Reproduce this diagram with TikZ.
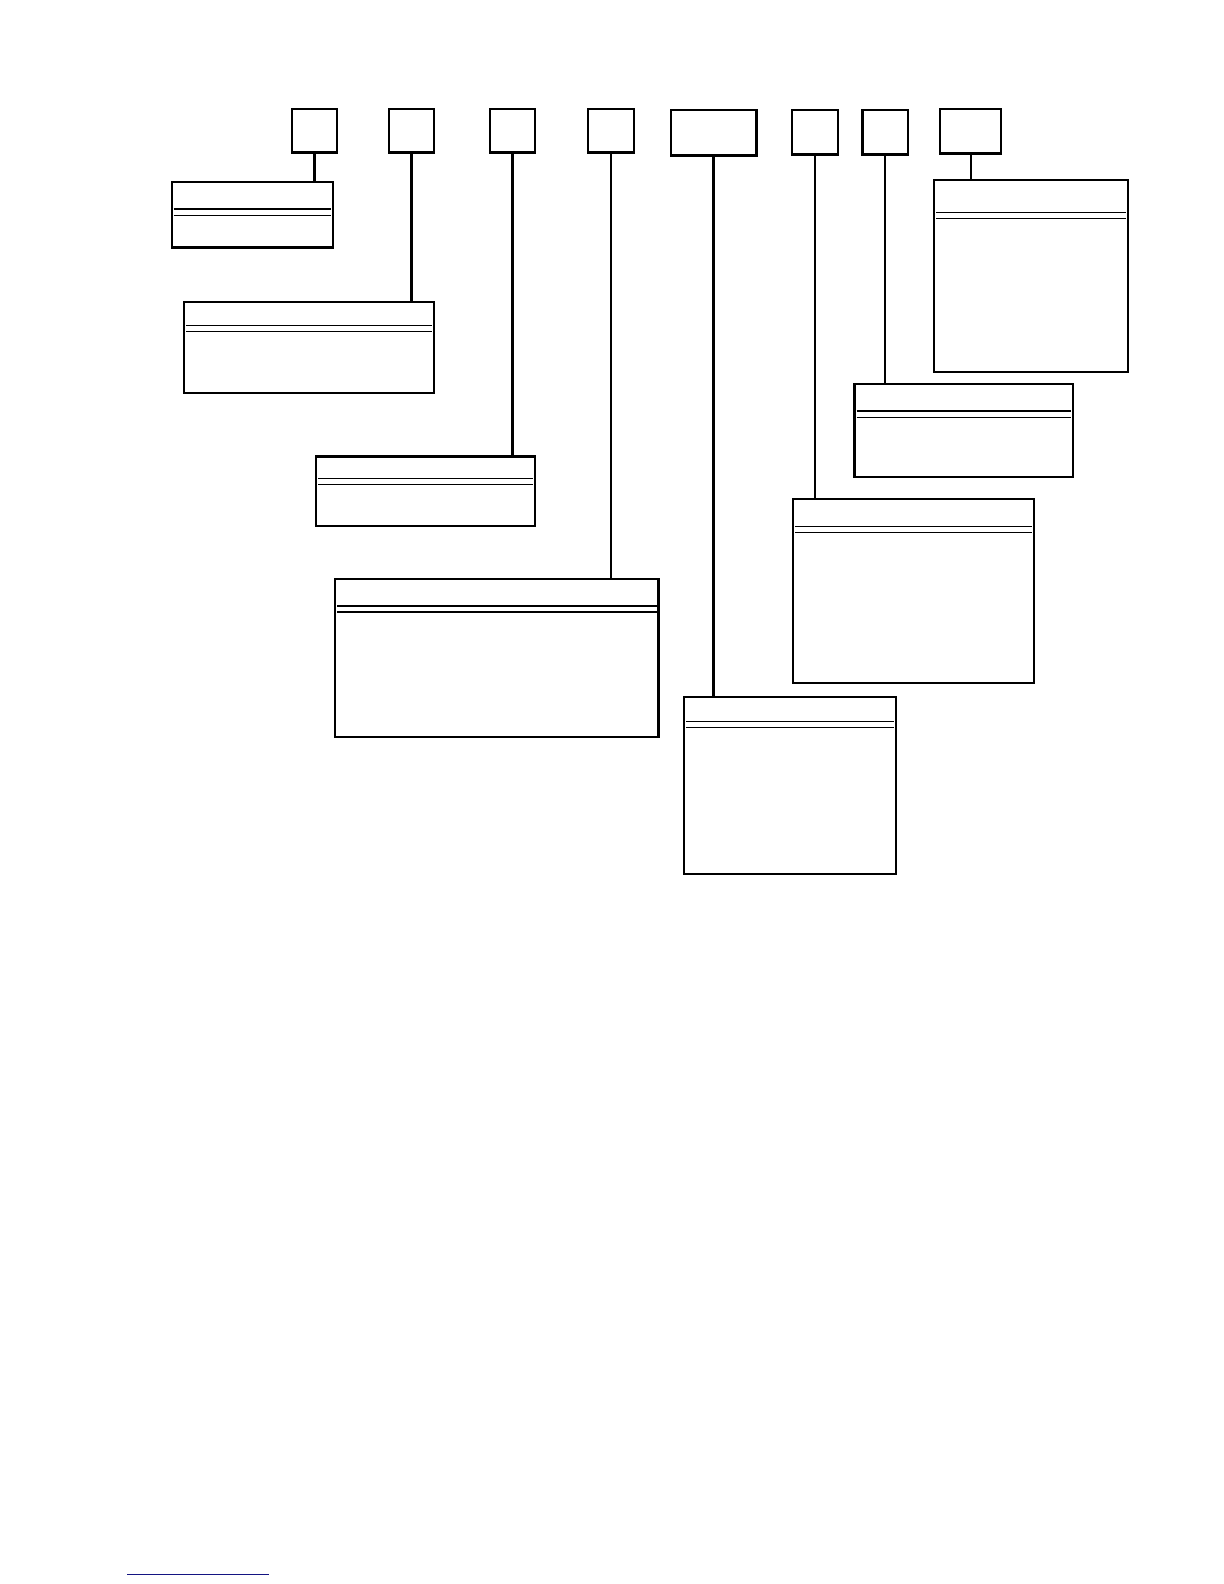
\documentclass[tikz,border=0pt]{standalone}
\usepackage{tikz}
\usepackage{xcolor}
\usetikzlibrary{calc}
\usetikzlibrary{shapes}

\definecolor{linkblue}{RGB}{20,20,130}
\tikzset{
  tag/.style={draw, rectangle, line width=1.1pt, inner sep=0pt, outer sep=0pt, anchor=north west},
  classbox/.style={draw, rectangle, line width=1.1pt, inner sep=0pt, outer sep=0pt, anchor=north west},
  rule/.style={line width=0.6pt},
  link/.style={line width=1.1pt}
}
% two thin lines under the head of a box
\newcommand{\headrules}[2]{%
  \draw[rule] ($(#1.north west)+(2,#2)$) -- ($(#1.north east)+(-2,#2)$);
  \draw[rule] ($(#1.north west)+(2,#2+6)$) -- ($(#1.north east)+(-2,#2+6)$);
}

\begin{document}
\begin{tikzpicture}[x=0.505pt,y=-0.505pt]
\useasboundingbox (0pt,0pt) rectangle (612pt,-792pt);

% the small boxes on top
\node [tag, minimum width=22.7pt, minimum height=21.7pt] (t1) at (289,108) {};
\node [tag, minimum width=22.7pt, minimum height=21.7pt] (t2) at (385,108) {};
\node [tag, minimum width=22.7pt, minimum height=21.7pt] (t3) at (485,108) {};
\node [tag, minimum width=23.2pt, minimum height=21.7pt] (t4) at (582,108) {};
\node [tag, minimum width=42.9pt, minimum height=22.7pt] (t5) at (664,109) {};
\node [tag, minimum width=23.2pt, minimum height=22.2pt] (t6) at (784,109) {};
\node [tag, minimum width=22.7pt, minimum height=22.2pt] (t7) at (854,109) {};
\node [tag, minimum width=30.3pt, minimum height=22.2pt] (t8) at (931,108) {};

% the larger boxes
\node [classbox, minimum width=80.8pt, minimum height=32.8pt] (a) at (170,180) {};
\node [classbox, minimum width=125.2pt, minimum height=45.5pt] (b) at (182,299) {};
\node [classbox, minimum width=109.6pt, minimum height=34.8pt] (c) at (313,452) {};
\node [classbox, minimum width=161.6pt, minimum height=79.3pt] (d) at (332,573) {};
\node [classbox, minimum width=106pt, minimum height=88.4pt] (e) at (677,690) {};
\node [classbox, minimum width=120.7pt, minimum height=91.9pt] (f) at (785,494) {};
\node [classbox, minimum width=109.1pt, minimum height=46.5pt] (g) at (846,380) {};
\node [classbox, minimum width=97pt, minimum height=96pt] (h) at (925,178) {};

\headrules{a}{27}
\headrules{b}{23}
\headrules{c}{22}
\headrules{d}{27}
\headrules{e}{24}
\headrules{f}{27}
\headrules{g}{27}
\headrules{h}{32}

% connectors
\draw [link] (t1.south) -- (t1.south |- a.north);
\draw [link] (t2.south) -- (t2.south |- b.north);
\draw [link] (t3.south) -- (t3.south |- c.north);
\draw [link] (t4.south) -- (t4.south |- d.north);
\draw [link] (t5.south) -- (t5.south |- e.north);
\draw [link] (t6.south) -- (t6.south |- f.north);
\draw [link] (t7.south) -- (t7.south |- g.north);
\draw [link] (t8.south) -- (t8.south |- h.north);

% short blue rule at the foot of the page
\coordinate (footl) at (126,1559);
\coordinate (footr) at (266,1559);
\draw [linkblue, line width=0.7pt] (footl) -- (footr);
\end{tikzpicture}
\end{document}
